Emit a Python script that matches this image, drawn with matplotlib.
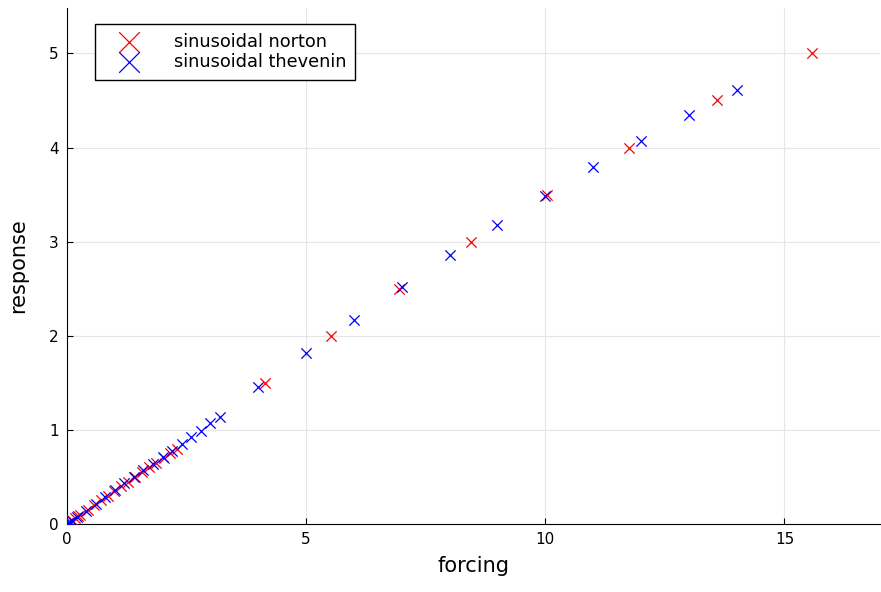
import matplotlib
matplotlib.use("Agg")
import matplotlib.pyplot as plt

# sinusoidal norton (red)
norton_x = [0.0, 0.03, 0.06, 0.11, 0.17, 0.23, 0.28, 0.43, 0.57, 0.71, 0.85, 0.99,
            1.14, 1.28, 1.42, 1.57, 1.72, 1.87, 2.02, 2.16, 2.30,
            4.15, 5.51, 6.95, 8.45, 10.04, 11.76, 13.6, 15.57]
norton_y = [0.0, 0.01, 0.02, 0.04, 0.06, 0.08, 0.10, 0.15, 0.20, 0.25, 0.30, 0.35,
            0.40, 0.45, 0.50, 0.55, 0.60, 0.65, 0.70, 0.75, 0.80,
            1.5, 2.0, 2.5, 3.0, 3.5, 4.0, 4.5, 5.0]

# sinusoidal thevenin (blue)
thevenin_x = [0.0, 0.01, 0.02, 0.04, 0.06, 0.1, 0.2, 0.4, 0.6, 0.8, 1.0, 1.2, 1.4,
              1.6, 1.8, 2.0, 2.2, 2.4, 2.6, 2.8, 3.0, 3.2,
              4, 5, 6, 7, 8, 9, 10, 11, 12, 13, 14]
thevenin_y = [0.0, 0.004, 0.007, 0.014, 0.021, 0.036, 0.07, 0.14, 0.21, 0.29, 0.36,
              0.43, 0.50, 0.57, 0.64, 0.71, 0.78, 0.85, 0.92, 0.99, 1.07, 1.14,
              1.45, 1.82, 2.17, 2.52, 2.86, 3.18, 3.49, 3.79, 4.07, 4.35, 4.61]

fig = plt.figure(figsize=(8.81, 5.92), dpi=100)
ax = fig.add_axes([0.076, 0.115, 0.923, 0.871])

ax.scatter(norton_x, norton_y, marker='x', color='red', s=55, linewidths=0.9,
           label='sinusoidal norton', zorder=3)
ax.scatter(thevenin_x, thevenin_y, marker='x', color='blue', s=55, linewidths=0.9,
           label='sinusoidal thevenin', zorder=3)

ax.set_xlim(0, 17)
ax.set_ylim(0, 5.48)
ax.set_xticks([0, 5, 10, 15])
ax.set_yticks([0, 1, 2, 3, 4, 5])
ax.grid(True, color='#e6e6e6', linewidth=0.8)
ax.set_axisbelow(True)
ax.spines['top'].set_visible(False)
ax.spines['right'].set_visible(False)
ax.tick_params(direction='in', length=4, labelsize=11, pad=6)
ax.set_xlabel('forcing', fontsize=15, labelpad=6)
ax.set_ylabel('response', fontsize=15, labelpad=15)

leg = ax.legend(loc='upper left', bbox_to_anchor=(0.035, 0.969), fontsize=12.8,
                fancybox=False, edgecolor='black', framealpha=1,
                handletextpad=1.1, labelspacing=0.1, borderpad=0.5,
                markerscale=2.0, handlelength=2.8, borderaxespad=0)
leg.get_frame().set_linewidth(1.0)

fig.savefig('out.png', dpi=100)
